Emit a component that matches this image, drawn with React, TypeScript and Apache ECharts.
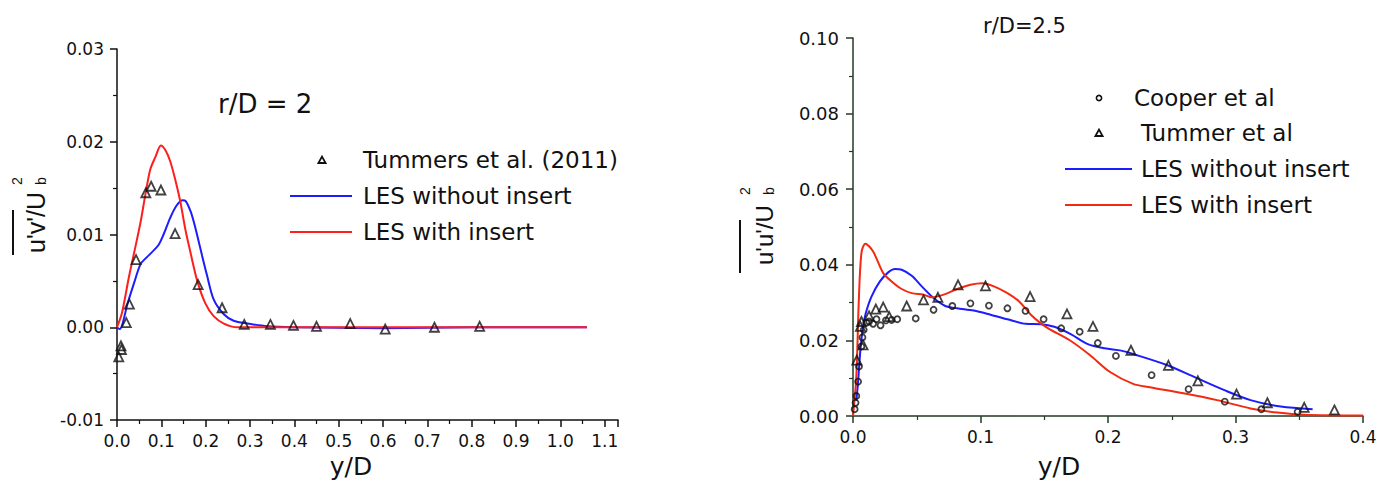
import React, { useEffect, useRef } from "react";
import * as echarts from "echarts";

// ---------- Left panel: r/D = 2, u'v'/Ub^2 ----------
const tummers2X = [0.004, 0.009, 0.010, 0.021, 0.028, 0.043, 0.065, 0.077, 0.099, 0.131, 0.183, 0.237, 0.287, 0.346, 0.398, 0.450, 0.526, 0.605, 0.716, 0.818];
const tummers2Y = [-0.0032, -0.0020, -0.0024, 0.0005, 0.0025, 0.0073, 0.0145, 0.0152, 0.0148, 0.0101, 0.0046, 0.0021, 0.0003, 0.0003, 0.0002, 0.0001, 0.0004, -0.0002, 0.0000, 0.0001];

const lesNo2X = [0, 0.006, 0.012, 0.023, 0.038, 0.053, 0.064, 0.079, 0.094, 0.105, 0.120, 0.134, 0.148, 0.155, 0.166, 0.173, 0.181, 0.192, 0.203, 0.218, 0.241, 0.263, 0.294, 0.339, 0.40, 0.60, 0.80, 1.06];
const lesNo2Y = [0, -0.0002, 0.0003, 0.0024, 0.0047, 0.0068, 0.0074, 0.0081, 0.0089, 0.0100, 0.0118, 0.0131, 0.0137, 0.0136, 0.0125, 0.0114, 0.0099, 0.0077, 0.0056, 0.0030, 0.0014, 0.0007, 0.0004, 0.0001, 0, -0.0001, 0, 0];

const lesIns2X = [0, 0.011, 0.026, 0.038, 0.053, 0.064, 0.075, 0.087, 0.099, 0.109, 0.120, 0.132, 0.143, 0.154, 0.166, 0.181, 0.199, 0.218, 0.241, 0.271, 0.40, 0.70, 1.06];
const lesIns2Y = [0, 0.0015, 0.0052, 0.0079, 0.0113, 0.0143, 0.0170, 0.0184, 0.0196, 0.0191, 0.0179, 0.0158, 0.0135, 0.0106, 0.0080, 0.0050, 0.0026, 0.0012, 0.0004, 0.0000, 0, 0, 0];

// ---------- Right panel: r/D = 2.5, u'u'/Ub^2 ----------
const cooperX = [0.0013, 0.002, 0.0026, 0.004, 0.0047, 0.0066, 0.0074, 0.0084, 0.0105, 0.0126, 0.0158, 0.0184, 0.0216, 0.0258, 0.0303, 0.0347, 0.0492, 0.0632, 0.0779, 0.0921, 0.1066, 0.1211, 0.1353, 0.1495, 0.1633, 0.1778, 0.1920, 0.2062, 0.2342, 0.2632, 0.2916, 0.3203, 0.3487];
const cooperY = [0.0018, 0.0035, 0.0053, 0.0091, 0.0131, 0.0184, 0.0208, 0.0228, 0.0247, 0.0250, 0.0244, 0.0256, 0.0240, 0.0253, 0.0254, 0.0256, 0.0258, 0.0281, 0.0291, 0.0298, 0.0292, 0.0285, 0.0278, 0.0256, 0.0232, 0.0223, 0.0193, 0.0159, 0.0108, 0.0071, 0.0038, 0.0018, 0.0011];

const tummerX = [0.003, 0.0058, 0.0066, 0.0079, 0.0126, 0.0179, 0.0237, 0.0284, 0.0421, 0.0553, 0.0666, 0.0824, 0.1039, 0.1389, 0.1678, 0.1882, 0.2180, 0.2474, 0.2705, 0.3008, 0.3250, 0.3539, 0.3776];
const tummerY = [0.0148, 0.0237, 0.0250, 0.0188, 0.0265, 0.0283, 0.0288, 0.0263, 0.0291, 0.0307, 0.0314, 0.0347, 0.0344, 0.0316, 0.0270, 0.0237, 0.0174, 0.0134, 0.0093, 0.0058, 0.0035, 0.0023, 0.0016];

const lesNo25X = [0.0026, 0.0039, 0.0058, 0.0079, 0.010, 0.0145, 0.0211, 0.0276, 0.0329, 0.0382, 0.0461, 0.0539, 0.0632, 0.0724, 0.0816, 0.0947, 0.1079, 0.1211, 0.1355, 0.1474, 0.1579, 0.1711, 0.1842, 0.1974, 0.2105, 0.2197, 0.2461, 0.2671, 0.2908, 0.3118, 0.3355, 0.3605];
const lesNo25Y = [0.0040, 0.0087, 0.0175, 0.0237, 0.0272, 0.0316, 0.0356, 0.0380, 0.0389, 0.0387, 0.0371, 0.0343, 0.0312, 0.0291, 0.0285, 0.0279, 0.0268, 0.0256, 0.0244, 0.0243, 0.0236, 0.0216, 0.0190, 0.0179, 0.0173, 0.0164, 0.0135, 0.0104, 0.0069, 0.0042, 0.0025, 0.0018];

const lesIns25X = [0, 0.0026, 0.0045, 0.0066, 0.0097, 0.0158, 0.0237, 0.0303, 0.0382, 0.0461, 0.0553, 0.0618, 0.0711, 0.0816, 0.0921, 0.1013, 0.1105, 0.1211, 0.1303, 0.1395, 0.1474, 0.1540, 0.1697, 0.1855, 0.2013, 0.2197, 0.2329, 0.2592, 0.2855, 0.3118, 0.3329, 0.3539, 0.40];
const lesIns25Y = [0, 0.0104, 0.0300, 0.0431, 0.0456, 0.0435, 0.0378, 0.0356, 0.0336, 0.0325, 0.0321, 0.0314, 0.0321, 0.0336, 0.0347, 0.0351, 0.0343, 0.0325, 0.0303, 0.0268, 0.0245, 0.0230, 0.0201, 0.0162, 0.0117, 0.0085, 0.0076, 0.0060, 0.0042, 0.0020, 0.0009, 0.0003, 0.0001];

const leftLegend = ["Tummers et al. (2011)", "LES without insert", "LES with insert"];
const rightLegend = ["Cooper et al", "Tummer et al", "LES without insert", "LES with insert"];

const pairs = (xs: number[], ys: number[]) => xs.map((x, i) => [x, ys[i]]);

const FONT = "DejaVu Sans";
const BLUE = "#1c1cff";
const RED_L = "#ff1e1e";
const RED_R = "#f22a12";
const INK = "#111";

export default function App() {
  const ref = useRef<HTMLDivElement>(null);

  useEffect(() => {
    if (!ref.current) return;
    const chart = echarts.init(ref.current, null, { renderer: "svg" });

    const axisStyle = (color: string, fontSize: number, margin: number) => ({
      axisLine: { show: true, onZero: false, lineStyle: { color, width: 1.5 } },
      axisTick: { show: true, inside: false, length: 7, lineStyle: { color, width: 1.5 } },
      minorTick: { show: true, splitNumber: 2, length: 4, lineStyle: { color, width: 1.2 } },
      splitLine: { show: false },
      axisLabel: { color: INK, fontFamily: FONT, fontSize, margin },
    });
    const fmt = (d: number) => (v: number) => (Math.abs(v) < 1e-9 ? 0 : v).toFixed(d);

    const L = axisStyle(INK, 17, 13);
    const R = axisStyle("#243a24", 17, 14);

    const hollow = { color: "rgba(0,0,0,0)", borderColor: INK, borderWidth: 1.8 };

    const yName = (x: number, y: number, main: string, size: number, supX: number, ol: [number, number], olY: number) => ({
      type: "group",
      x,
      y,
      rotation: Math.PI / 2,
      children: [
        { type: "text", x: 0, y: -9, style: { text: main, font: `${size}px 'Liberation Sans'`, fill: INK, textAlign: "left", textVerticalAlign: "middle" } },
        { type: "text", x: supX, y: -28, style: { text: "2", font: "14px 'Liberation Sans'", fill: INK, textAlign: "left", textVerticalAlign: "middle" } },
        { type: "text", x: supX, y: -4, style: { text: "b", font: "14px 'Liberation Sans'", fill: INK, textAlign: "left", textVerticalAlign: "middle" } },
        { type: "line", shape: { x1: ol[0], y1: olY, x2: ol[1], y2: olY }, style: { stroke: INK, lineWidth: 2 } },
      ],
    });

    // legend row helpers (drawn as graphic elements)
    const legText = (x: number, y: number, text: string) => ({
      type: "text", x, y, style: { text, font: `23px '${FONT}'`, fill: INK, textAlign: "left", textVerticalAlign: "middle" },
    });
    const legTri = (cx: number, cy: number) => ({
      type: "polygon", shape: { points: [[cx - 3.6, cy + 3], [cx + 3.6, cy + 3], [cx, cy - 3.4]] },
      style: { fill: "none", stroke: INK, lineWidth: 1.8 },
    });
    const legCircle = (cx: number, cy: number) => ({
      type: "circle", shape: { cx, cy, r: 2.6 }, style: { fill: "none", stroke: INK, lineWidth: 1.6 },
    });
    const legLine = (x1: number, x2: number, y: number, color: string) => ({
      type: "line", shape: { x1, y1: y, x2, y2: y }, style: { stroke: color, lineWidth: 2 },
    });

    const option: any = {
      animation: false,
      backgroundColor: "#ffffff",
      grid: [
        { left: 117, top: 49, width: 501, height: 371 },
        { left: 853, top: 38, width: 510, height: 378 },
      ],
      xAxis: [
        {
          gridIndex: 0, type: "value", min: 0, max: 1.13, interval: 0.1,
          ...L,
          axisLabel: { ...L.axisLabel, formatter: fmt(1), showMaxLabel: false, margin: 12 },
        },
        {
          gridIndex: 1, type: "value", min: 0, max: 0.4, interval: 0.1,
          ...R,
          axisLabel: { ...R.axisLabel, formatter: fmt(1), margin: 12 },
        },
      ],
      yAxis: [
        {
          gridIndex: 0, type: "value", min: -0.01, max: 0.03, interval: 0.01,
          ...L,
          axisLabel: { ...L.axisLabel, formatter: fmt(2) },
        },
        {
          gridIndex: 1, type: "value", min: 0, max: 0.1, interval: 0.02,
          ...R,
          axisLabel: { ...R.axisLabel, fontSize: 18, formatter: fmt(2) },
        },
      ],
      series: [
        { name: leftLegend[1], type: "line", xAxisIndex: 0, yAxisIndex: 0, data: pairs(lesNo2X, lesNo2Y), symbol: "none", smooth: 0.3, lineStyle: { color: BLUE, width: 2 }, itemStyle: { color: BLUE }, z: 2 },
        { name: leftLegend[2], type: "line", xAxisIndex: 0, yAxisIndex: 0, data: pairs(lesIns2X, lesIns2Y), symbol: "none", smooth: 0.3, lineStyle: { color: RED_L, width: 2 }, itemStyle: { color: RED_L }, z: 2 },
        { name: leftLegend[0], type: "scatter", xAxisIndex: 0, yAxisIndex: 0, data: pairs(tummers2X, tummers2Y), symbol: "triangle", symbolSize: 9, itemStyle: hollow, z: 3 },

        { name: rightLegend[0], type: "scatter", xAxisIndex: 1, yAxisIndex: 1, data: pairs(cooperX, cooperY), symbol: "circle", symbolSize: 6, itemStyle: hollow, z: 3 },
        { name: rightLegend[1], type: "scatter", xAxisIndex: 1, yAxisIndex: 1, data: pairs(tummerX, tummerY), symbol: "triangle", symbolSize: 9, itemStyle: hollow, z: 3 },
        { name: rightLegend[2], type: "line", xAxisIndex: 1, yAxisIndex: 1, data: pairs(lesNo25X, lesNo25Y), symbol: "none", smooth: 0.3, lineStyle: { color: BLUE, width: 2 }, itemStyle: { color: BLUE }, z: 2 },
        { name: rightLegend[3], type: "line", xAxisIndex: 1, yAxisIndex: 1, data: pairs(lesIns25X, lesIns25Y), symbol: "none", smooth: 0.3, lineStyle: { color: RED_R, width: 2 }, itemStyle: { color: RED_R }, z: 2 },
      ],
      graphic: [
        { type: "text", x: 218, y: 104, style: { text: "r/D = 2", font: `26px '${FONT}'`, fill: INK, textAlign: "left", textVerticalAlign: "middle" } },
        { type: "text", x: 983, y: 26, style: { text: "r/D=2.5", font: `21px '${FONT}'`, fill: INK, textAlign: "left", textVerticalAlign: "middle" } },
        { type: "text", x: 351, y: 466, style: { text: "y/D", font: `25px '${FONT}'`, fill: INK, textAlign: "center", textVerticalAlign: "middle" } },
        { type: "text", x: 1059, y: 466, style: { text: "y/D", font: `25px '${FONT}'`, fill: INK, textAlign: "center", textVerticalAlign: "middle" } },
        yName(45, 253, "u'v'/U", 25, 68, [-2, 43], -32),
        yName(773, 265, "u'u'/U", 24, 70, [-8, 45], -33),

        // left legend
        legTri(322, 160),
        legText(363, 160, leftLegend[0]),
        legLine(290, 352, 196, BLUE),
        legText(363, 196, leftLegend[1]),
        legLine(290, 352, 232, RED_L),
        legText(363, 232, leftLegend[2]),

        // right legend
        legCircle(1099, 98),
        legText(1134, 98, rightLegend[0]),
        legTri(1099, 133),
        legText(1141, 133, rightLegend[1]),
        legLine(1065, 1132, 169, BLUE),
        legText(1141, 169, rightLegend[2]),
        legLine(1065, 1132, 205, RED_R),
        legText(1141, 205, rightLegend[3]),
      ],
    };

    chart.setOption(option);
    return () => chart.dispose();
  }, []);

  return <div ref={ref} style={{ position: "absolute", left: 0, top: 0, width: 1391, height: 488 }} />;
}
